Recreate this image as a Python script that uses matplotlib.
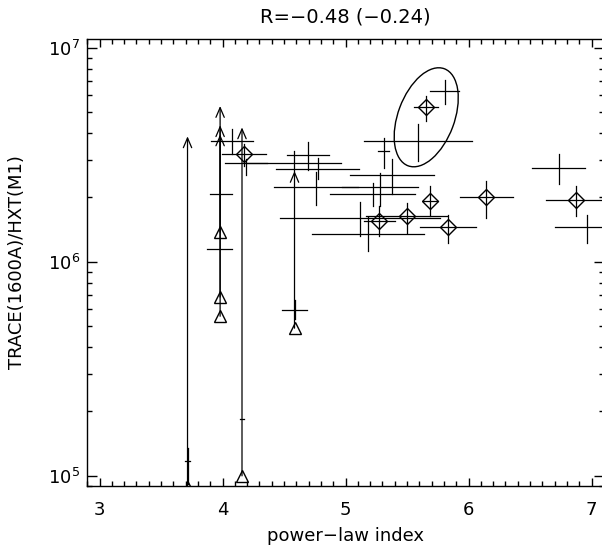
import numpy as np
import matplotlib
matplotlib.use("Agg")
import matplotlib.pyplot as plt
from matplotlib.patches import Ellipse
from matplotlib.transforms import ScaledTranslation
from matplotlib.ticker import MultipleLocator, LogLocator

# plain crosses: x, x error, y, lower / upper end of y error
cross_x = [5.805, 5.589, 5.309, 4.694, 4.577, 4.772, 4.760, 5.377, 5.277, 5.222,
           5.120, 5.182, 6.732, 6.967, 4.076, 4.193, 3.990, 3.977, 4.587, 3.715, 4.158]
cross_xerr = [0.115, 0.443, 0.043, 0.172, 0.385, 0.335, 0.345, 0.339, 0.309, 0.345,
              0.650, 0.453, 0.217, 0.260, 0.173, 0.170, 0.090, 0.100, 0.100, 0.020, 0.020]
cross_y = [6.27e6, 3.69e6, 3.30e6, 3.16e6, 2.90e6, 2.73e6, 2.24e6, 2.54e6, 2.23e6, 2.08e6,
           1.61e6, 1.35e6, 2.75e6, 1.45e6, 3.67e6, 2.90e6, 2.08e6, 1.15e6, 5.96e5, 1.17e5, 1.85e5]
cross_ylo = [5.47e6, 2.96e6, 2.75e6, 2.70e6, 2.65e6, 2.43e6, 1.85e6, 2.07e6, 1.82e6, 1.82e6,
             1.32e6, 1.13e6, 2.30e6, 1.22e6, 3.18e6, 2.56e6, 2.08e6, 1.15e6, 5.40e5, 9.2e4, 1.85e5]
cross_yhi = [7.10e6, 4.40e6, 3.78e6, 3.63e6, 3.30e6, 3.07e6, 2.62e6, 3.01e6, 2.61e6, 2.34e6,
             1.90e6, 1.62e6, 3.21e6, 1.66e6, 4.17e6, 3.01e6, 2.08e6, 1.15e6, 6.60e5, 1.35e5, 1.85e5]

# diamonds
dia_x = [5.656, 5.689, 6.144, 5.276, 5.499, 5.832, 6.873, 4.171]
dia_xerr = [0.098, 0.060, 0.217, 0.130, 0.330, 0.228, 0.240, 0.179]
dia_y = [5.27e6, 1.92e6, 2.00e6, 1.56e6, 1.63e6, 1.45e6, 1.95e6, 3.18e6]
dia_ylo = [4.56e6, 1.63e6, 1.60e6, 1.32e6, 1.37e6, 1.22e6, 1.64e6, 2.80e6]
dia_yhi = [5.93e6, 2.26e6, 2.38e6, 1.82e6, 1.89e6, 1.66e6, 2.26e6, 3.54e6]

# triangles (lower limits) and the tips of their arrows
tri_x = [3.98, 3.98, 3.98, 4.158, 4.585, 3.715]
tri_y = [1.38e6, 6.85e5, 5.57e5, 1.0e5, 4.9e5, 8.8e4]
tri_tip = [3.94e6, 4.35e6, 5.35e6, 4.25e6, 2.66e6, 3.86e6]

# ellipse around the two upper points
ell_center = (5.656, 4.74e6)

fig = plt.figure(figsize=(6.02, 5.5), dpi=100)
ax = fig.add_axes([0.145, 0.117, 0.858, 0.812])
ax.set_yscale("log")
ax.set_xlim(2.9, 7.1)
ax.set_ylim(9e4, 1.1e7)

lw = 0.9
for i in range(len(cross_x)):
    ax.plot([cross_x[i] - cross_xerr[i], cross_x[i] + cross_xerr[i]], [cross_y[i]] * 2, color="k", lw=lw)
    ax.plot([cross_x[i]] * 2, [cross_ylo[i], cross_yhi[i]], color="k", lw=lw)

for i in range(len(dia_x)):
    ax.plot([dia_x[i] - dia_xerr[i], dia_x[i] + dia_xerr[i]], [dia_y[i]] * 2, color="k", lw=lw)
    ax.plot([dia_x[i]] * 2, [dia_ylo[i], dia_yhi[i]], color="k", lw=lw)
ax.plot(dia_x, dia_y, ls="none", marker="D", ms=8, mfc="none", mec="k", mew=1.0)

for i in range(len(tri_x)):
    ann = ax.annotate("", xy=(tri_x[i], tri_tip[i]), xytext=(tri_x[i], tri_y[i]),
                      arrowprops=dict(arrowstyle="->,head_length=0.7,head_width=0.3",
                                      color="k", lw=lw, shrinkA=0, shrinkB=0))
    ann.arrow_patch.set_clip_box(ax.bbox)
    ann.arrow_patch.set_clip_on(True)
ax.plot(tri_x, tri_y, ls="none", marker="^", ms=9, mfc="none", mec="k", mew=1.0)

ell = Ellipse((0, 0), width=1.036, height=0.564, angle=69.5, fill=False, ec="k", lw=1.0,
              transform=fig.dpi_scale_trans + ScaledTranslation(*ell_center, ax.transData))
ax.add_patch(ell)

ax.xaxis.set_major_locator(MultipleLocator(1))
ax.xaxis.set_minor_locator(MultipleLocator(0.1))
ax.yaxis.set_major_locator(LogLocator(base=10))
ax.yaxis.set_minor_locator(LogLocator(base=10, subs=np.arange(2, 10)))
ax.tick_params(which="both", direction="in", top=True, right=True, width=1.0, labelsize=13)
ax.tick_params(axis="x", which="major", length=6, pad=11)
ax.tick_params(axis="x", which="minor", length=3.4)
ax.tick_params(axis="y", which="major", length=7.5, pad=5)
ax.tick_params(axis="y", which="minor", length=3.4)
for s in ax.spines.values():
    s.set_linewidth(1.0)

ax.set_xlabel("power\u2212law index", fontsize=13, labelpad=6)
ax.set_ylabel("TRACE(1600A)/HXT(M1)", fontsize=13, labelpad=16)
ax.set_title("R=\u22120.48 (\u22120.24)", fontsize=14, pad=12)

fig.savefig("out.png", dpi=100)
